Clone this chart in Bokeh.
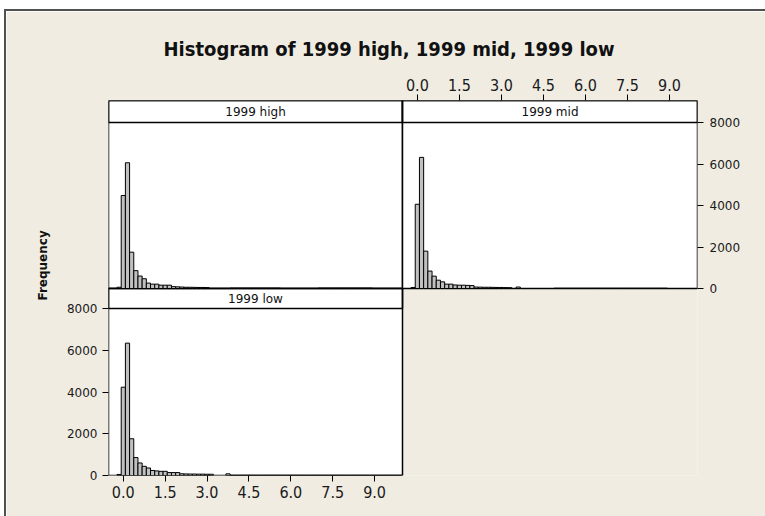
import numpy as np
from bokeh.plotting import figure
from bokeh.layouts import column, row
from bokeh.models import (Range1d, LinearAxis, FixedTicker, PrintfTickFormatter,
                          Label, Title, ColumnDataSource, Spacer)
from bokeh.embed import file_html
from bokeh.resources import INLINE

# ---- data -------------------------------------------------------------
# histogram midpoints: first midpoint and interval width
BIN_START = -0.15
BIN_WIDTH = 0.15
N_BINS = 68

# counts per bin, midpoints -0.15, 0.00, 0.15, ... 9.90
high_counts = [60, 4480, 6060, 1750, 860, 600, 470, 260, 210, 210,
               160, 160, 160, 90, 80, 70, 60, 60, 55, 50,
               50, 45, 0, 0, 0, 0, 0, 15, 15, 15,
               15, 15, 15, 15, 15, 15, 15, 15, 15, 0,
               0, 0, 0, 0, 0, 0, 0, 0, 15, 15,
               15, 15, 15, 15, 15, 15, 15, 15, 15, 15,
               15, 0, 0, 0, 0, 0, 0, 0]
mid_counts = [50, 4060, 6320, 1800, 840, 595, 400, 320, 210, 210,
              170, 160, 160, 150, 140, 70, 65, 60, 60, 55,
              50, 50, 45, 40, 0, 70, 0, 0, 0, 0,
              0, 0, 0, 0, 15, 15, 15, 15, 15, 15,
              15, 15, 15, 15, 15, 15, 15, 15, 15, 15,
              15, 15, 15, 15, 15, 15, 15, 15, 15, 15,
              15, 0, 0, 0, 0, 0, 0, 0]
low_counts = [50, 4230, 6340, 1760, 860, 600, 440, 360, 240, 220,
              200, 200, 140, 140, 140, 80, 75, 70, 70, 65,
              65, 60, 60, 0, 0, 0, 80, 15, 15, 15,
              15, 15, 15, 15, 15, 15, 15, 15, 15, 15,
              15, 15, 15, 15, 15, 15, 15, 15, 15, 15,
              15, 15, 15, 15, 15, 15, 15, 15, 15, 15,
              15, 15, 15, 15, 15, 15, 15, 15]

series_names = ["1999 high", "1999 mid", "1999 low"]
x_ticks = [0.0, 1.5, 3.0, 4.5, 6.0, 7.5, 9.0]
y_ticks = [0, 2000, 4000, 6000, 8000]
chart_title = "Histogram of 1999 high, 1999 mid, 1999 low"
y_label = "Frequency"

# ---- layout (page pixels) ---------------------------------------------
PAGE_W, PAGE_H = 765, 516
OX, OY = 6, 11                      # where the sheet starts, inside its edge
EDGE_W = 2
BEIGE = "#F0ECE2"
EDGE = "#505050"
BAR_FILL = "#C0C0C0"
FRAME_L, FRAME_R, FRAME_T, FRAME_B = 108, 697, 100, 475
XLO, XHI = -0.53, 10.0
YMAX = 8000
CONDENSED = "DejaVu Sans Condensed"
PLAIN = "DejaVu Sans"

# page pixels of each panel: left, right, y of zero, y of YMAX, strip top
panel_px = {
    "high": (108, 402, 288, 122, 100),
    "mid": (402, 697, 288, 122, 100),
    "low": (108, 402, 475, 308, 288),
}


def x_range_for(a, b):
    k = (b - a) / (XHI - XLO)
    return Range1d(XLO - (a - FRAME_L) / k, XHI + (FRAME_R - b) / k)


def y_range_for(y0, y8):
    k = (y0 - y8) / YMAX
    return Range1d(-(FRAME_B - y0) / k, (y0 - FRAME_T) / k), k


xr, yr, strip_top = {}, {}, {}
for key, (a, b, y0, y8, ys) in panel_px.items():
    xr[key] = x_range_for(a, b)
    yr[key], k = y_range_for(y0, y8)
    strip_top[key] = (y0 - ys) / k

p = figure(frame_width=FRAME_R - FRAME_L, frame_height=FRAME_B - FRAME_T,
           min_border_left=FRAME_L - OX, min_border_right=PAGE_W - FRAME_R,
           min_border_top=FRAME_T - OY, min_border_bottom=PAGE_H - FRAME_B,
           x_range=xr["low"], y_range=yr["low"],
           x_axis_location=None, y_axis_location=None,
           toolbar_location=None, output_backend="svg",
           background_fill_color=BEIGE, border_fill_color=BEIGE,
           outline_line_color=None)
p.grid.visible = False
p.extra_x_ranges = {"high": xr["high"], "mid": xr["mid"]}
p.extra_y_ranges = {"high": yr["high"], "mid": yr["mid"]}
range_name = {"high": "high", "mid": "mid", "low": "default"}

p.title = Title(text=chart_title, align="left", offset=55, standoff=29,
                text_font=CONDENSED, text_font_style="bold",
                text_font_size="20px", text_color="#111111")

centers = BIN_START + BIN_WIDTH * np.arange(N_BINS)
counts_by_panel = {"high": high_counts, "mid": mid_counts, "low": low_counts}

for key, name in zip(["high", "mid", "low"], series_names):
    rn = range_name[key]
    top_val = strip_top[key]
    # panel body and header strip
    p.quad(left=[XLO], right=[XHI], bottom=[0], top=[top_val],
           fill_color="white", line_color="black", line_width=1.5,
           x_range_name=rn, y_range_name=rn, level="underlay")
    p.quad(left=[XLO], right=[XHI], bottom=[YMAX], top=[top_val],
           fill_color=None, line_color="black", line_width=1.5,
           x_range_name=rn, y_range_name=rn, level="underlay")
    p.add_layout(Label(x=(XLO + XHI) / 2, y=(YMAX + top_val) / 2, text=name,
                       x_range_name=rn, y_range_name=rn,
                       text_align="center", text_baseline="middle",
                       text_font=PLAIN, text_font_size="12px",
                       text_color="#111111"))
    counts = np.array(counts_by_panel[key], dtype=float)
    keep = counts > 0
    src = ColumnDataSource(dict(left=centers[keep] - BIN_WIDTH / 2,
                                right=centers[keep] + BIN_WIDTH / 2,
                                top=counts[keep]))
    p.quad(left="left", right="right", bottom=0, top="top", source=src,
           fill_color=BAR_FILL, line_color="black", line_width=1,
           x_range_name=rn, y_range_name=rn)


def style_axis(ax, font, size, standoff):
    ax.axis_line_color = None
    ax.major_tick_line_color = "black"
    ax.major_tick_line_width = 1
    ax.major_tick_in = 0
    ax.major_tick_out = 6
    ax.minor_tick_line_color = None
    ax.major_label_text_font = font
    ax.major_label_text_font_size = size
    ax.major_label_text_color = "#1a1a1a"
    ax.major_label_standoff = standoff


bottom_ax = LinearAxis(x_range_name="default", ticker=FixedTicker(ticks=x_ticks),
                       formatter=PrintfTickFormatter(format="%.1f"))
style_axis(bottom_ax, CONDENSED, "16px", 4)
p.add_layout(bottom_ax, "below")

top_ax = LinearAxis(x_range_name="mid", ticker=FixedTicker(ticks=x_ticks),
                    formatter=PrintfTickFormatter(format="%.1f"))
style_axis(top_ax, CONDENSED, "16px", 4)
p.add_layout(top_ax, "above")

left_ax = LinearAxis(y_range_name="default", ticker=FixedTicker(ticks=y_ticks))
style_axis(left_ax, PLAIN, "12px", 5)
p.add_layout(left_ax, "left")

right_ax = LinearAxis(y_range_name="mid", ticker=FixedTicker(ticks=y_ticks))
style_axis(right_ax, PLAIN, "12px", 6)
p.add_layout(right_ax, "right")

# shared y label, placed beside the lower panel's axis
p.add_layout(Title(text=y_label, align="left", offset=175, standoff=28,
                   text_font=PLAIN, text_font_style="bold",
                   text_font_size="12px", text_color="#111111"), "left")

# white page margin and the dark edge along the sheet's top and left sides
edge_style = {"background-color": EDGE}
top_gap = Spacer(width=PAGE_W, height=OY - EDGE_W)
top_edge = row(Spacer(width=OX - EDGE_W, height=EDGE_W),
               Spacer(width=PAGE_W - OX + EDGE_W, height=EDGE_W, styles=edge_style))
body = row(Spacer(width=OX - EDGE_W, height=PAGE_H - OY),
           Spacer(width=EDGE_W, height=PAGE_H - OY, styles=edge_style),
           p)
page = column(top_gap, top_edge, body)

open("out.html", "w").write(file_html(page, INLINE))
